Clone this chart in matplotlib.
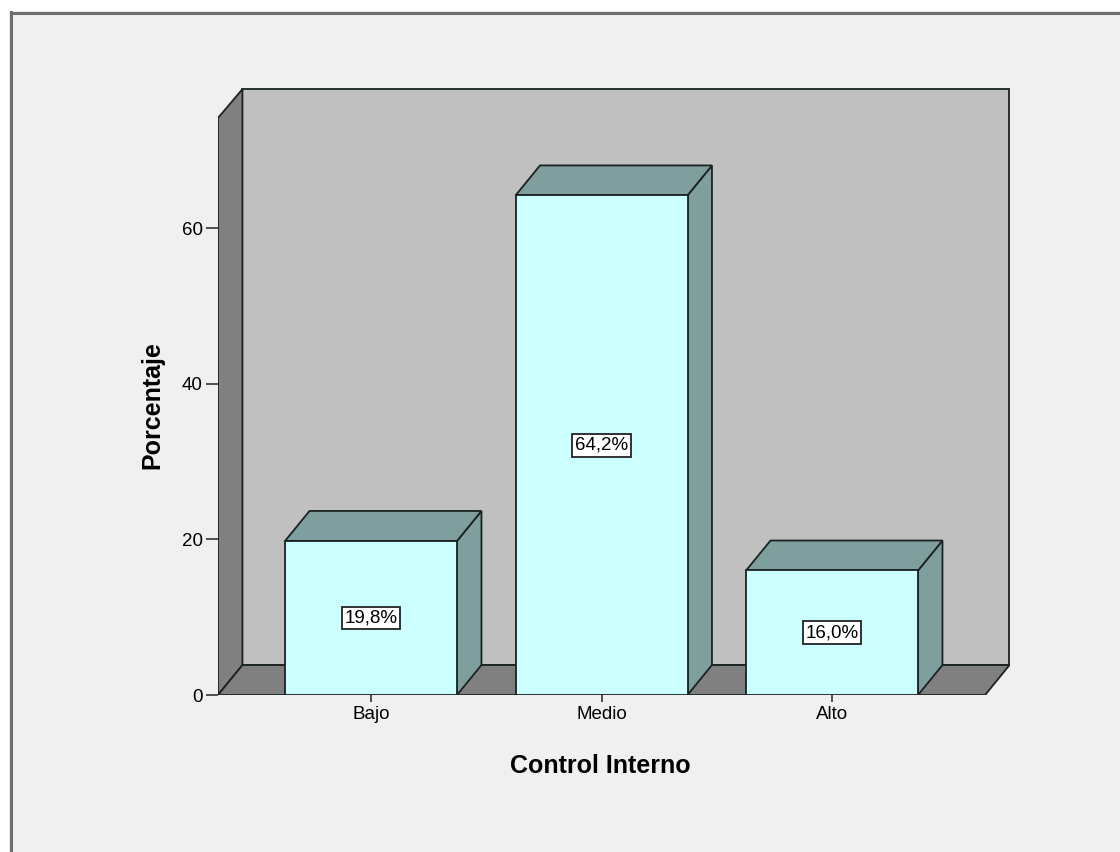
import matplotlib
matplotlib.use("Agg")
import matplotlib.pyplot as plt
from matplotlib.patches import Polygon, Rectangle
from matplotlib.lines import Line2D

plt.rcParams["font.family"] = ["Liberation Sans", "DejaVu Sans"]

categories = ["Bajo", "Medio", "Alto"]
percentages = [19.8, 64.2, 16.0]
value_labels = ["19,8%", "64,2%", "16,0%"]
y_ticks = [0, 20, 40, 60]

# 3D look parameters (in data units)
bar_width = 0.746
depth_x = 0.106
depth_y = 3.85
x_left, x_right = -0.664, 2.772
y_top = 78.0

front_color = "#ccffff"
shade_color = "#7f9e9e"
wall_color = "#c0c0c0"
side_wall_color = "#808080"
edge = "#1a2222"

fig = plt.figure(figsize=(11.2, 8.52), dpi=100)
fig.patch.set_facecolor("#f0f0f0")

# chart frame (top and left borders)
fig.add_artist(Line2D([11 / 1120, 11 / 1120], [0, 1 - 12 / 852], color="#6e6e6e", lw=2.2))
fig.add_artist(Line2D([11 / 1120, 1], [1 - 13 / 852, 1 - 13 / 852], color="#6e6e6e", lw=2.2))
fig.add_artist(Rectangle((0, 1 - 11 / 852), 1, 11 / 852, transform=fig.transFigure,
                         facecolor="white", edgecolor="none"))
fig.add_artist(Rectangle((0, 0), 9 / 1120, 1, transform=fig.transFigure,
                         facecolor="white", edgecolor="none"))

ax = fig.add_axes([218 / 1120, 1 - 695 / 852, 792 / 1120, 607 / 852])
ax.set_xlim(x_left, x_right)
ax.set_ylim(0, y_top)
ax.patch.set_alpha(0)
for s in ax.spines.values():
    s.set_visible(False)

x_end = 2 + 0.664  # front floor edge right end
lw = 1.3

# back wall
ax.add_patch(Rectangle((x_left + depth_x, depth_y), x_right - x_left - depth_x - 0.003,
                       y_top - depth_y - 0.15, facecolor=wall_color, edgecolor=edge, lw=lw, zorder=1))
# left side wall
ax.add_patch(Polygon([(x_left, 0), (x_left + depth_x, depth_y),
                      (x_left + depth_x, y_top - 0.15), (x_left, y_top - depth_y)],
                     closed=True, facecolor=side_wall_color, edgecolor=edge, lw=lw, zorder=2))
# floor
ax.add_patch(Polygon([(x_left, 0), (x_end, 0), (x_end + depth_x, depth_y),
                      (x_left + depth_x, depth_y)],
                     closed=True, facecolor=side_wall_color, edgecolor=edge, lw=lw, zorder=2))

for i, (val, lab) in enumerate(zip(percentages, value_labels)):
    l = i - bar_width / 2
    r = i + bar_width / 2
    # side face
    ax.add_patch(Polygon([(r, 0), (r + depth_x, depth_y), (r + depth_x, val + depth_y), (r, val)],
                         closed=True, facecolor=shade_color, edgecolor=edge, lw=lw, zorder=3))
    # top face
    ax.add_patch(Polygon([(l, val), (r, val), (r + depth_x, val + depth_y), (l + depth_x, val + depth_y)],
                         closed=True, facecolor=shade_color, edgecolor=edge, lw=lw, zorder=3))
    # front face
    ax.add_patch(Rectangle((l, 0), bar_width, val, facecolor=front_color,
                           edgecolor=edge, lw=lw, zorder=4))
    ax.text(i, val / 2, lab, ha="center", va="center", fontsize=13.5, zorder=5,
            bbox=dict(boxstyle="square,pad=0.15", facecolor="white", edgecolor="#222222", lw=1.3))

ax.set_yticks(y_ticks)
ax.set_yticklabels([str(t) for t in y_ticks])
ax.set_xticks(range(len(categories)))
ax.set_xticklabels(categories)
ax.tick_params(axis="y", length=9, width=1.2, color="#333333", labelsize=13.5, pad=2)
ax.tick_params(axis="x", length=5, width=1.2, color="#333333", labelsize=13.5, pad=3)

ax.set_xlabel("Control Interno", fontsize=18, fontweight="bold")
ax.xaxis.set_label_coords((600 - 218) / 792, -(766 - 695) / 607)
ax.xaxis.label.set_va("center")
ax.set_ylabel("Porcentaje", fontsize=18, fontweight="bold")
ax.yaxis.set_label_coords(-(218 - 152) / 792, (695 - 405) / 607)
ax.yaxis.label.set_va("center")

fig.savefig("out.png", dpi=100, facecolor=fig.get_facecolor())
